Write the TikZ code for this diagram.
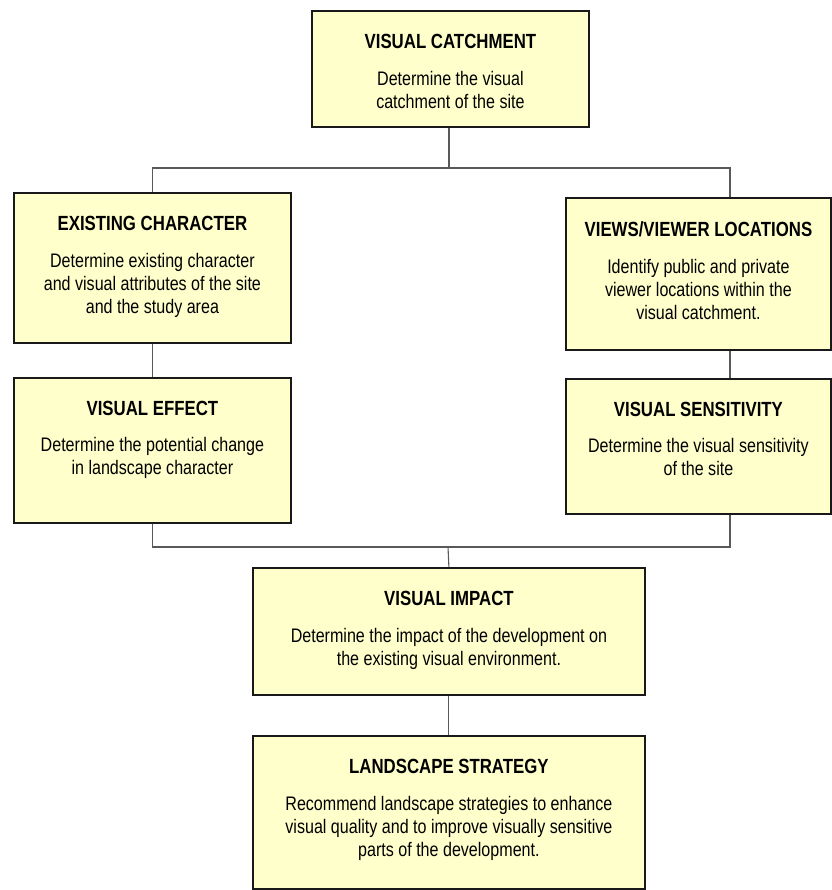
\documentclass[tikz,border=0pt]{standalone}
\usepackage{fontspec}
\setmainfont[FakeStretch=0.82]{Liberation Sans}
\usetikzlibrary{calc}
\definecolor{boxfill}{RGB}{255,255,204}
\tikzset{
  box/.style={draw=black!90, line width=1.8pt, fill=boxfill, inner sep=0pt, anchor=north west},
  conn/.style={draw=black!65, line width=1.1pt},
  txt/.style={anchor=north, align=center, inner sep=0pt, font=\fontsize{19.6}{23}\selectfont}
}
\newcommand\flowbox[8]{%
  \node[box, minimum width={(#4-#2)*1pt}, minimum height={(#5-#3)*1pt}] (#1) at (#2,#3) {};
  \node[txt] (#1t) at ($(#1.north)+(0,24)$) {\textbf{\fontsize{20.5}{23}\selectfont #6}\\[#7] #8};
}
\begin{document}
\begin{tikzpicture}[x=1pt,y=-1pt]
\useasboundingbox (0,0) rectangle (831,890);
\flowbox{catch}{311}{10}{588}{126}{VISUAL CATCHMENT}{14pt}{Determine the visual\\ catchment of the site}
\flowbox{exist}{13}{192}{290}{342}{EXISTING CHARACTER}{14pt}{Determine existing character\\ and visual attributes of the site\\ and the study area}
\flowbox{effect}{13}{377}{290}{522}{VISUAL EFFECT}{13pt}{Determine the potential change\\ in landscape character}
\flowbox{views}{565}{197}{830}{349}{VIEWS/VIEWER LOCATIONS}{14pt}{Identify public and private\\ viewer locations within the\\ visual catchment.}
\flowbox{sens}{565}{378}{830}{513}{VISUAL SENSITIVITY}{13pt}{Determine the visual sensitivity\\ of the site}
\flowbox{impact}{252}{567}{644}{694}{VISUAL IMPACT}{14pt}{Determine the impact of the development on\\ the existing visual environment.}
\flowbox{strat}{252}{735}{644}{888}{LANDSCAPE STRATEGY}{14pt}{Recommend landscape strategies to enhance\\ visual quality and to improve visually sensitive\\ parts of the development.}
\coordinate (j1) at (449,168);
\coordinate (j2) at (448,547);
\coordinate (vx) at (730,0);
\draw[conn] (catch.south -| j1) -- (j1);
\draw[conn] (exist.north) |- (j1) -| (views.north -| vx);
\draw[conn] (exist.south) -- (effect.north);
\draw[conn] (views.south -| vx) -- (sens.north -| vx);
\draw[conn] (effect.south) |- (j2) -| (sens.south -| vx);
\draw[conn] (j2) -- (impact.north);
\draw[conn] (impact.south) -- (strat.north);
\end{tikzpicture}
\end{document}
